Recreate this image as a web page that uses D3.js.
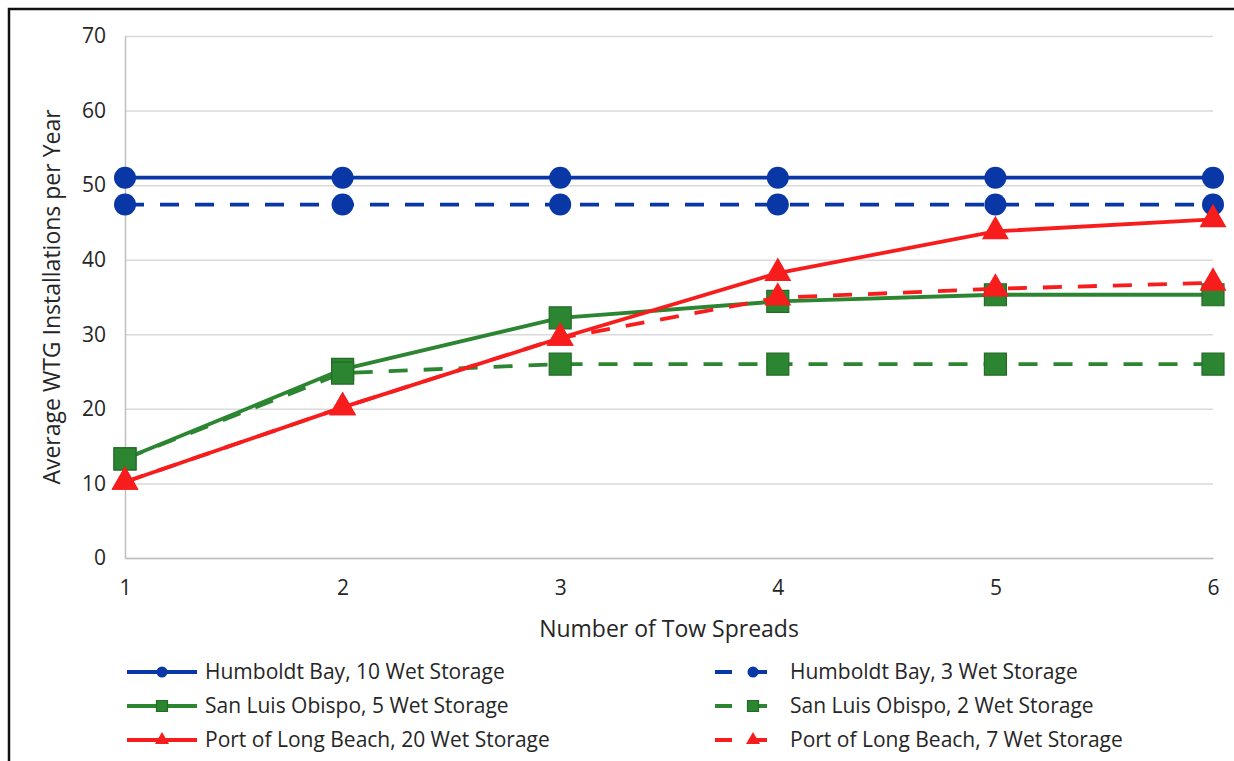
<!DOCTYPE html>
<html lang="en">
<head>
    <meta charset="UTF-8">
    <title>Tow spreads</title>
    <script src="https://cdn.jsdelivr.net/npm/d3@7"></script>
</head>
<style>
    body {
     margin: 0;
     background: #fff;
     font-family: "Open Sans", sans-serif;
    }
    .grid line {
     stroke: #d9d9d9;
     stroke-width: 1.5;
    }
    .axis text {
     font-size: 21px;
     font-family: "Open Sans", sans-serif;
     fill: #262626;
    }
    .legend text {
     font-size: 21px;
     fill: #262626;
    }
</style>
<body>
<script type="text/javascript">
    // data
    var tows = [1, 2, 3, 4, 5, 6];
    var yTicks = [0, 10, 20, 30, 40, 50, 60, 70];
    var humboldt10 = [51.0, 51.0, 51.0, 51.0, 51.0, 51.0];
    var humboldt3 = [47.4, 47.4, 47.4, 47.4, 47.4, 47.4];
    var slo5 = [13.3, 25.3, 32.2, 34.4, 35.3, 35.3];
    var slo2 = [13.3, 24.8, 26.0, 26.0, 26.0, 26.0];
    var plb20 = [10.2, 20.2, 29.5, 38.2, 43.8, 45.4];
    var plb7 = [10.2, 20.2, 29.5, 34.9, 36.1, 36.9];
    var names = ["Humboldt Bay, 10 Wet Storage", "Humboldt Bay, 3 Wet Storage",
                 "San Luis Obispo, 5 Wet Storage", "San Luis Obispo, 2 Wet Storage",
                 "Port of Long Beach, 20 Wet Storage", "Port of Long Beach, 7 Wet Storage"];

    var blue = "#0a37a6", green = "#2c8530", red = "#f81d1d";
    var series = [
        {name: names[0], values: humboldt10, color: blue, dashed: false, marker: "circle"},
        {name: names[1], values: humboldt3, color: blue, dashed: true, marker: "circle"},
        {name: names[2], values: slo5, color: green, dashed: false, marker: "square"},
        {name: names[3], values: slo2, color: green, dashed: true, marker: "square"},
        {name: names[4], values: plb20, color: red, dashed: false, marker: "triangle"},
        {name: names[5], values: plb7, color: red, dashed: true, marker: "triangle"}
    ];

    var W = 1234, H = 761;
    var margin = {top: 36, right: 21, bottom: 203, left: 125},
        w = W - margin.left - margin.right,
        h = H - margin.top - margin.bottom;

    var svg = d3.select("body").append("svg")
        .attr("width", W)
        .attr("height", H);

    // outer frame (left and top edges only visible)
    svg.append("path")
        .attr("d", "M9," + H + "V9H" + W)
        .attr("fill", "none")
        .attr("stroke", "#111")
        .attr("stroke-width", 2.5);

    var g = svg.append("g")
        .attr("transform", "translate(" + margin.left + "," + margin.top + ")");

    var x = d3.scaleLinear().domain([1, 6]).range([0, w]);
    var y = d3.scaleLinear().domain([0, 70]).range([h, 0]);

    // horizontal gridlines
    g.append("g")
        .attr("class", "grid")
        .call(d3.axisLeft(y).tickValues(yTicks).tickSize(-w).tickFormat(""))
        .call(function(s) { s.select(".domain").remove(); });

    // y axis line + labels
    var yAxis = g.append("g")
        .attr("class", "axis")
        .call(d3.axisLeft(y).tickValues(yTicks).tickSize(0).tickPadding(19));
    yAxis.select(".domain").attr("stroke", "#bfbfbf").attr("stroke-width", 1.5);

    var xAxis = g.append("g")
        .attr("class", "axis")
        .attr("transform", "translate(0," + h + ")")
        .call(d3.axisBottom(x).tickValues(tows).tickFormat(d3.format("d")).tickSize(0).tickPadding(22));
    xAxis.select(".domain").attr("stroke", "#bfbfbf").attr("stroke-width", 1.5);

    // axis titles
    g.append("text")
        .attr("transform", "translate(-65," + (h / 2) + ") rotate(-90)")
        .attr("text-anchor", "middle")
        .style("font-size", "23px")
        .attr("fill", "#262626")
        .text("Average WTG Installations per Year");
    g.append("text")
        .attr("x", w / 2)
        .attr("y", h + 79)
        .attr("text-anchor", "middle")
        .style("font-size", "23px")
        .attr("fill", "#262626")
        .text("Number of Tow Spreads");

    function drawMarker(sel, type, size, color) {
        var sym = type === "circle" ? d3.symbolCircle : type === "square" ? d3.symbolSquare : d3.symbolTriangle;
        var area = type === "circle" ? Math.PI * size * size / 4 : type === "square" ? size * size : size * size * 0.433;
        sel.append("path")
            .attr("d", d3.symbol().type(sym).size(area))
            .attr("fill", color)
            .attr("stroke", type === "square" ? d3.color(color).darker(0.6) : "none")
            .attr("stroke-width", 1.2);
    }

    var line = d3.line()
        .x(function(d, i) { return x(tows[i]); })
        .y(function(d) { return y(d); });

    series.forEach(function(s) {
        var sg = g.append("g");
        sg.append("path")
            .datum(s.values)
            .attr("d", line)
            .attr("fill", "none")
            .attr("stroke", s.color)
            .attr("stroke-width", 3.8)
            .attr("stroke-dasharray", s.dashed ? "19,16" : null);
        sg.selectAll(".pt")
            .data(s.values)
            .enter().append("g")
            .attr("class", "pt")
            .attr("transform", function(d, i) { return "translate(" + x(tows[i]) + "," + y(d) + ")"; })
            .each(function() { drawMarker(d3.select(this), s.marker, s.marker === "triangle" ? 27 : 22, s.color); });
    });

    // legend, two columns
    var legend = svg.append("g").attr("class", "legend");
    var colX = [127, 715], rowY = [672, 706, 740];
    series.forEach(function(s, i) {
        var lx = colX[i % 2], ly = rowY[Math.floor(i / 2)];
        var item = legend.append("g").attr("transform", "translate(" + lx + "," + ly + ")");
        var len = s.dashed ? 52 : 70;
        item.append("line")
            .attr("x1", 0).attr("x2", len)
            .attr("stroke", s.color)
            .attr("stroke-width", 4)
            .attr("stroke-dasharray", s.dashed ? "17,20" : null);
        var m = item.append("g").attr("transform", "translate(" + (s.dashed ? 38 : 35) + ",0)");
        drawMarker(m, s.marker, s.marker === "triangle" ? 14 : 11, s.color);
        item.append("text")
            .attr("x", s.dashed ? 75 : 78)
            .attr("dy", "0.35em")
            .text(s.name);
    });
</script>
</body>
</html>
